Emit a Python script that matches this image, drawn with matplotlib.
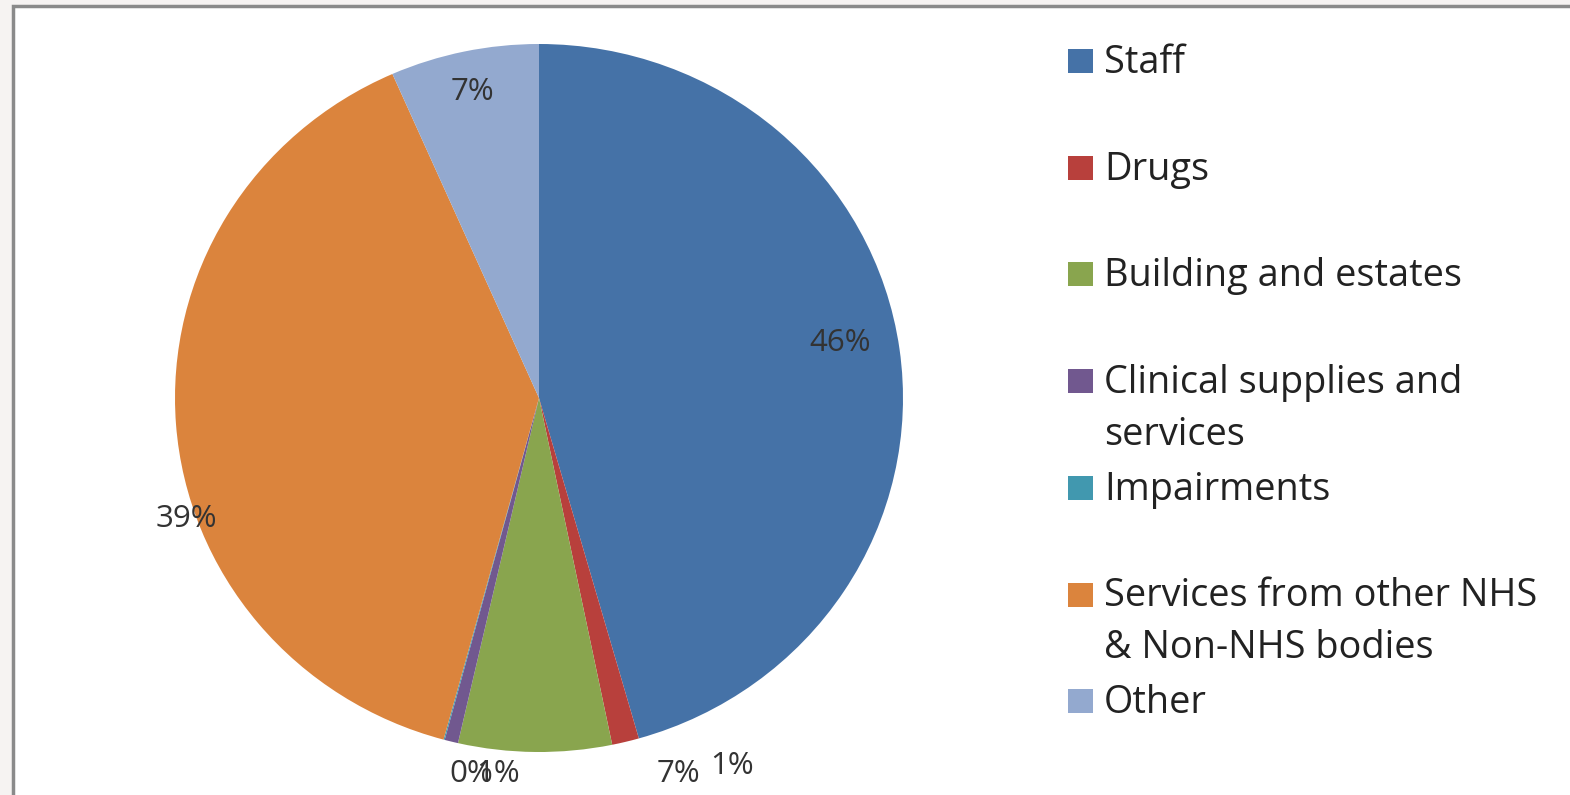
import matplotlib
matplotlib.use("Agg")
import matplotlib.pyplot as plt
from matplotlib.patches import Rectangle

# Expenditure breakdown (percent of total)
categories = [
    "Staff",
    "Drugs",
    "Building and estates",
    "Clinical supplies and\nservices",
    "Impairments",
    "Services from other NHS\n& Non-NHS bodies",
    "Other",
]
shares = [45.6, 1.2, 6.8, 0.6, 0.05, 39.2, 6.6]
colors = ["#4572A7", "#B8403C", "#89A54E", "#71588F", "#4198AF", "#DB843D", "#93A9CF"]

W, H = 1570, 795
plt.rcParams["font.family"] = ["Open Sans", "DejaVu Sans"]
fig = plt.figure(figsize=(W / 100, H / 100), dpi=100, facecolor="#f6f3f2")


def fx(px):
    return px / W


def fy(py):
    return 1 - py / H


# white chart area with grey frame
fig.patches.append(Rectangle((fx(13), -0.1), 1.2, fy(6) + 0.1, transform=fig.transFigure,
                             facecolor="white", edgecolor="#8a8a8a", linewidth=2.5, zorder=-5))

ax = fig.add_axes([fx(175), 1 - 752 / H, 728 / W, 708 / H])
ax.set_zorder(2)
wedges, _, autotexts = ax.pie(
    shares, colors=colors, startangle=90, counterclock=False,
    autopct="%.0f%%", pctdistance=0.8,
    wedgeprops=dict(linewidth=0),
    textprops=dict(fontsize=22.5, color="#333333"),
)
ax.set_aspect("auto")
ax.set_xlim(-1, 1)
ax.set_ylim(-1, 1)
ax.axis("off")

# data label placement (axes data units)
label_pos = [
    (0.827, 0.155),
    (0.530, -1.040),
    (0.382, -1.062),
    (-0.113, -1.062),
    (-0.185, -1.062),
    (-0.970, -0.342),
    (-0.184, 0.865),
]
for t, (x, y) in zip(autotexts, label_pos):
    t.set_position((x, y))
    t.set_ha("center")
    t.set_va("center")
    t.set_clip_on(False)

# legend drawn as swatches + text
base0 = 73
step = 106.7
line_gap = 52
for i, (lab, col) in enumerate(zip(categories, colors)):
    base = base0 + step * i
    fig.patches.append(Rectangle((fx(1068), fy(base)), 25 / W, 24 / H,
                                 transform=fig.transFigure, facecolor=col,
                                 edgecolor="none", zorder=3))
    for k, line in enumerate(lab.split("\n")):
        fig.text(fx(1104), fy(base + k * line_gap), line, fontsize=27.3,
                 color="#222222", ha="left", va="baseline")

fig.savefig("out.png", dpi=100, facecolor=fig.get_facecolor())
